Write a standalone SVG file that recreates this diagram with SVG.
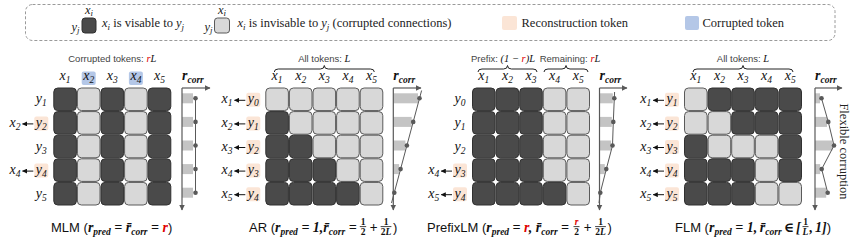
<svg xmlns="http://www.w3.org/2000/svg" width="856" height="243" viewBox="0 0 856 243">
<style>
.d{fill:#4a4a4a;stroke:#303030;stroke-width:1}
.l{fill:#d8d8d8;stroke:#5a5a5a;stroke-width:1}
.rb{fill:#fbe5d6}
.cb{fill:#b4c7e7}
.mi{font-family:"Liberation Serif",serif;font-style:italic;font-size:14px;fill:#111}
.sb{font-size:9.5px}
.ax{stroke:#595959;stroke-width:1.2;fill:none}
.bar{fill:#c4c4c4}
.dot{fill:#595959}
.cl{stroke:#595959;stroke-width:1;fill:none}
.la{stroke:#111;stroke-width:1;fill:none}
.br{stroke:#222;stroke-width:1;fill:none}
.note{font-family:"Liberation Sans",sans-serif;font-size:9.5px;fill:#444}
.nm{font-family:"Liberation Serif",serif;font-style:italic;font-size:10.5px;fill:#111}
.cap{font-family:"Liberation Sans",sans-serif;font-size:13px;fill:#111}
.m{font-family:"Liberation Serif","DejaVu Serif",serif;font-style:italic;font-weight:bold;font-size:14px;fill:#111}
.ms{font-size:9.5px}
.fr{font-family:"Liberation Serif",serif;font-weight:bold;font-size:9.5px;fill:#111}
.fb{stroke:#111;stroke-width:0.8}
.red{fill:#e00000}
.lg{font-family:"Liberation Serif",serif;font-size:12.5px;fill:#222}
.lgi{font-style:italic}
.lgs{font-size:9px;font-style:italic}
</style>
<defs>
<marker id="ah" viewBox="0 0 6 6" refX="5.5" refY="3" markerWidth="6" markerHeight="6" markerUnits="userSpaceOnUse" orient="auto"><path d="M0,0 L6,3 L0,6 z" fill="#595959"/></marker>
<marker id="la" viewBox="0 0 6 6" refX="5.5" refY="3" markerWidth="5" markerHeight="5" markerUnits="userSpaceOnUse" orient="auto"><path d="M0,0 L6,3 L0,6 z" fill="#111"/></marker>
</defs>

<g id="legend">
<rect x="25.5" y="4.5" width="809.5" height="36" rx="7" fill="none" stroke="#9a9a9a" stroke-dasharray="3 2"/>
<rect class="d" x="82" y="18" width="14" height="15" rx="3"/>
<text class="lg lgi" x="89" y="14" text-anchor="middle" font-size="11">x<tspan class="lgs" dy="2">i</tspan></text>
<text class="lg lgi" x="79.5" y="31" text-anchor="end" font-size="11">y<tspan class="lgs" dy="2">j</tspan></text>
<text class="lg" x="102" y="27"><tspan class="lgi">x</tspan><tspan class="lgs" dy="2.5">i</tspan><tspan dy="-2.5"> is visable to </tspan><tspan class="lgi">y</tspan><tspan class="lgs" dy="2.5">j</tspan></text>
<rect class="l" x="214.5" y="18" width="15" height="15" rx="3"/>
<text class="lg lgi" x="222" y="14" text-anchor="middle" font-size="11">x<tspan class="lgs" dy="2">i</tspan></text>
<text class="lg lgi" x="212.5" y="31" text-anchor="end" font-size="11">y<tspan class="lgs" dy="2">j</tspan></text>
<text class="lg" x="237.5" y="27"><tspan class="lgi">x</tspan><tspan class="lgs" dy="2.5">i</tspan><tspan dy="-2.5"> is invisable to </tspan><tspan class="lgi">y</tspan><tspan class="lgs" dy="2.5">j</tspan><tspan dy="-2.5"> (corrupted connections)</tspan></text>
<rect class="rb" x="502" y="16" width="15" height="14" rx="2"/>
<text class="lg" x="521.5" y="27">Reconstruction token</text>
<rect class="cb" x="685" y="16" width="14" height="14" rx="2"/>
<text class="lg" x="702.5" y="27">Corrupted token</text>
</g>

<!-- MLM -->
<g id="mlm">
<text class="note" x="112.3" y="62" text-anchor="middle">Corrupted tokens: <tspan class="nm red">r</tspan><tspan class="nm">L</tspan></text>
<rect class="cb" x="81.7" y="71.5" width="14" height="13.5" rx="2"/>
<rect class="cb" x="128.9" y="71.5" width="14" height="13.5" rx="2"/>
<text class="mi" x="65.1" y="80" text-anchor="middle">x<tspan class="sb" dy="3">1</tspan></text>
<text class="mi" x="88.7" y="80" text-anchor="middle">x<tspan class="sb" dy="3">2</tspan></text>
<text class="mi" x="112.3" y="80" text-anchor="middle">x<tspan class="sb" dy="3">3</tspan></text>
<text class="mi" x="135.9" y="80" text-anchor="middle">x<tspan class="sb" dy="3">4</tspan></text>
<text class="mi" x="159.5" y="80" text-anchor="middle">x<tspan class="sb" dy="3">5</tspan></text>
<rect class="rb" x="34.3" y="116.4" width="14" height="14" rx="2"/>
<rect class="rb" x="34.3" y="163.6" width="14" height="14" rx="2"/>
<text class="mi" x="41.3" y="103.3" text-anchor="middle">y<tspan class="sb" dy="3">1</tspan></text>
<text class="mi" x="41.3" y="126.9" text-anchor="middle">y<tspan class="sb" dy="3">2</tspan></text>
<text class="mi" x="41.3" y="150.5" text-anchor="middle">y<tspan class="sb" dy="3">3</tspan></text>
<text class="mi" x="41.3" y="174.1" text-anchor="middle">y<tspan class="sb" dy="3">4</tspan></text>
<text class="mi" x="41.3" y="197.7" text-anchor="middle">y<tspan class="sb" dy="3">5</tspan></text>
<text class="mi" x="20.5" y="126.9" text-anchor="end">x<tspan class="sb" dy="3">2</tspan></text>
<text class="mi" x="20.5" y="174.1" text-anchor="end">x<tspan class="sb" dy="3">4</tspan></text>
<g transform="translate(53.3,87.5)">
<rect class="d" x="0.5" y="0.5" width="22.6" height="22.6" rx="4"/><rect class="l" x="24.1" y="0.5" width="22.6" height="22.6" rx="4"/><rect class="d" x="47.7" y="0.5" width="22.6" height="22.6" rx="4"/><rect class="l" x="71.3" y="0.5" width="22.6" height="22.6" rx="4"/><rect class="d" x="94.9" y="0.5" width="22.6" height="22.6" rx="4"/>
<rect class="d" x="0.5" y="24.1" width="22.6" height="22.6" rx="4"/><rect class="l" x="24.1" y="24.1" width="22.6" height="22.6" rx="4"/><rect class="d" x="47.7" y="24.1" width="22.6" height="22.6" rx="4"/><rect class="l" x="71.3" y="24.1" width="22.6" height="22.6" rx="4"/><rect class="d" x="94.9" y="24.1" width="22.6" height="22.6" rx="4"/>
<rect class="d" x="0.5" y="47.7" width="22.6" height="22.6" rx="4"/><rect class="l" x="24.1" y="47.7" width="22.6" height="22.6" rx="4"/><rect class="d" x="47.7" y="47.7" width="22.6" height="22.6" rx="4"/><rect class="l" x="71.3" y="47.7" width="22.6" height="22.6" rx="4"/><rect class="d" x="94.9" y="47.7" width="22.6" height="22.6" rx="4"/>
<rect class="d" x="0.5" y="71.3" width="22.6" height="22.6" rx="4"/><rect class="l" x="24.1" y="71.3" width="22.6" height="22.6" rx="4"/><rect class="d" x="47.7" y="71.3" width="22.6" height="22.6" rx="4"/><rect class="l" x="71.3" y="71.3" width="22.6" height="22.6" rx="4"/><rect class="d" x="94.9" y="71.3" width="22.6" height="22.6" rx="4"/>
<rect class="d" x="0.5" y="94.9" width="22.6" height="22.6" rx="4"/><rect class="l" x="24.1" y="94.9" width="22.6" height="22.6" rx="4"/><rect class="d" x="47.7" y="94.9" width="22.6" height="22.6" rx="4"/><rect class="l" x="71.3" y="94.9" width="22.6" height="22.6" rx="4"/><rect class="d" x="94.9" y="94.9" width="22.6" height="22.6" rx="4"/>
</g>
<text class="m" x="182" y="80">r<tspan class="ms" dy="2.5">corr</tspan></text>
<rect class="bar" x="182" y="93.3" width="11" height="10"/>
<rect class="bar" x="182" y="116.9" width="11" height="10"/>
<rect class="bar" x="182" y="140.5" width="11" height="10"/>
<rect class="bar" x="182" y="164.1" width="11" height="10"/>
<rect class="bar" x="182" y="187.7" width="11" height="10"/>
<line class="ax" x1="182" y1="88" x2="210" y2="88" marker-end="url(#ah)"/>
<line class="ax" x1="182" y1="88" x2="182" y2="210" marker-end="url(#ah)"/>
<line class="cl" x1="195.5" y1="98.3" x2="195.5" y2="192.7"/>
<circle class="dot" cx="195.5" cy="98.3" r="2.3"/><circle class="dot" cx="195.5" cy="121.9" r="2.3"/><circle class="dot" cx="195.5" cy="145.5" r="2.3"/><circle class="dot" cx="195.5" cy="169.1" r="2.3"/><circle class="dot" cx="195.5" cy="192.7" r="2.3"/>
<text class="cap" x="111.7" y="231.5" text-anchor="middle">MLM (<tspan class="m">r</tspan><tspan class="m ms" dy="3">pred</tspan><tspan class="m" dy="-3"> = r̄</tspan><tspan class="m ms" dy="3">corr</tspan><tspan class="m" dy="-3"> = </tspan><tspan class="m red">r</tspan>)</text>
</g>

<!-- AR -->
<g id="ar">
<text class="note" x="324.3" y="62" text-anchor="middle">All tokens: <tspan class="nm">L</tspan></text>
<path class="br" d="M274.3,72 Q274.3,69 278.3,69 L320.3,69 Q324.3,69 324.3,65.5 Q324.3,69 328.3,69 L370.3,69 Q374.3,69 374.3,72"/>
<text class="mi" x="277.1" y="80" text-anchor="middle">x<tspan class="sb" dy="3">1</tspan></text>
<text class="mi" x="300.7" y="80" text-anchor="middle">x<tspan class="sb" dy="3">2</tspan></text>
<text class="mi" x="324.3" y="80" text-anchor="middle">x<tspan class="sb" dy="3">3</tspan></text>
<text class="mi" x="347.9" y="80" text-anchor="middle">x<tspan class="sb" dy="3">4</tspan></text>
<text class="mi" x="371.5" y="80" text-anchor="middle">x<tspan class="sb" dy="3">5</tspan></text>
<rect class="rb" x="246.3" y="92.8" width="14" height="14" rx="2"/>
<rect class="rb" x="246.3" y="116.4" width="14" height="14" rx="2"/>
<rect class="rb" x="246.3" y="140" width="14" height="14" rx="2"/>
<rect class="rb" x="246.3" y="163.6" width="14" height="14" rx="2"/>
<rect class="rb" x="246.3" y="187.2" width="14" height="14" rx="2"/>
<text class="mi" x="253.3" y="103.3" text-anchor="middle">y<tspan class="sb" dy="3">0</tspan></text>
<text class="mi" x="253.3" y="126.9" text-anchor="middle">y<tspan class="sb" dy="3">1</tspan></text>
<text class="mi" x="253.3" y="150.5" text-anchor="middle">y<tspan class="sb" dy="3">2</tspan></text>
<text class="mi" x="253.3" y="174.1" text-anchor="middle">y<tspan class="sb" dy="3">3</tspan></text>
<text class="mi" x="253.3" y="197.7" text-anchor="middle">y<tspan class="sb" dy="3">4</tspan></text>
<text class="mi" x="232.5" y="103.3" text-anchor="end">x<tspan class="sb" dy="3">1</tspan></text>
<text class="mi" x="232.5" y="126.9" text-anchor="end">x<tspan class="sb" dy="3">2</tspan></text>
<text class="mi" x="232.5" y="150.5" text-anchor="end">x<tspan class="sb" dy="3">3</tspan></text>
<text class="mi" x="232.5" y="174.1" text-anchor="end">x<tspan class="sb" dy="3">4</tspan></text>
<text class="mi" x="232.5" y="197.7" text-anchor="end">x<tspan class="sb" dy="3">5</tspan></text>
<g transform="translate(265.3,87.5)">
<rect class="l" x="0.5" y="0.5" width="22.6" height="22.6" rx="4"/><rect class="l" x="24.1" y="0.5" width="22.6" height="22.6" rx="4"/><rect class="l" x="47.7" y="0.5" width="22.6" height="22.6" rx="4"/><rect class="l" x="71.3" y="0.5" width="22.6" height="22.6" rx="4"/><rect class="l" x="94.9" y="0.5" width="22.6" height="22.6" rx="4"/>
<rect class="d" x="0.5" y="24.1" width="22.6" height="22.6" rx="4"/><rect class="l" x="24.1" y="24.1" width="22.6" height="22.6" rx="4"/><rect class="l" x="47.7" y="24.1" width="22.6" height="22.6" rx="4"/><rect class="l" x="71.3" y="24.1" width="22.6" height="22.6" rx="4"/><rect class="l" x="94.9" y="24.1" width="22.6" height="22.6" rx="4"/>
<rect class="d" x="0.5" y="47.7" width="22.6" height="22.6" rx="4"/><rect class="d" x="24.1" y="47.7" width="22.6" height="22.6" rx="4"/><rect class="l" x="47.7" y="47.7" width="22.6" height="22.6" rx="4"/><rect class="l" x="71.3" y="47.7" width="22.6" height="22.6" rx="4"/><rect class="l" x="94.9" y="47.7" width="22.6" height="22.6" rx="4"/>
<rect class="d" x="0.5" y="71.3" width="22.6" height="22.6" rx="4"/><rect class="d" x="24.1" y="71.3" width="22.6" height="22.6" rx="4"/><rect class="d" x="47.7" y="71.3" width="22.6" height="22.6" rx="4"/><rect class="l" x="71.3" y="71.3" width="22.6" height="22.6" rx="4"/><rect class="l" x="94.9" y="71.3" width="22.6" height="22.6" rx="4"/>
<rect class="d" x="0.5" y="94.9" width="22.6" height="22.6" rx="4"/><rect class="d" x="24.1" y="94.9" width="22.6" height="22.6" rx="4"/><rect class="d" x="47.7" y="94.9" width="22.6" height="22.6" rx="4"/><rect class="d" x="71.3" y="94.9" width="22.6" height="22.6" rx="4"/><rect class="l" x="94.9" y="94.9" width="22.6" height="22.6" rx="4"/>
</g>
<text class="m" x="393.3" y="80">r<tspan class="ms" dy="2.5">corr</tspan></text>
<rect class="bar" x="393.3" y="93.3" width="24.7" height="10"/>
<rect class="bar" x="393.3" y="116.9" width="18.4" height="10"/>
<rect class="bar" x="393.3" y="140.5" width="12.1" height="10"/>
<rect class="bar" x="393.3" y="164.1" width="5.8" height="10"/>
<line class="ax" x1="393.3" y1="88" x2="421" y2="88" marker-end="url(#ah)"/>
<line class="ax" x1="393.3" y1="88" x2="393.3" y2="210" marker-end="url(#ah)"/>
<line class="cl" x1="421.6" y1="90.5" x2="391.5" y2="203"/>
<circle class="dot" cx="419.5" cy="98.3" r="2.3"/><circle class="dot" cx="413.2" cy="121.9" r="2.3"/><circle class="dot" cx="406.9" cy="145.5" r="2.3"/><circle class="dot" cx="400.6" cy="169.1" r="2.3"/><circle class="dot" cx="394.3" cy="192.7" r="2.3"/>
<text class="cap" x="249" y="231.5">AR (<tspan class="m">r</tspan><tspan class="m ms" dy="3">pred</tspan><tspan class="m" dy="-3"> = 1,r̄</tspan><tspan class="m ms" dy="3">corr</tspan><tspan class="m" dy="-3"> =</tspan></text>
<text class="fr" x="363" y="224.5" text-anchor="middle">1</text>
<line class="fb" x1="359.8" y1="226.6" x2="366.2" y2="226.6"/>
<text class="fr" x="363" y="234.5" text-anchor="middle">2</text>
<text class="m" x="369.5" y="231.5">+</text>
<text class="fr" x="386" y="224.5" text-anchor="middle">1</text>
<line class="fb" x1="380.6" y1="226.6" x2="391.4" y2="226.6"/>
<text class="fr" x="386" y="234.5" text-anchor="middle">2<tspan font-style="italic">L</tspan></text>
<text class="cap" x="393" y="231.5">)</text>
</g>

<!-- PrefixLM -->
<g id="prefixlm">
<text class="note" x="503" y="62" text-anchor="middle">Prefix: <tspan class="nm" font-style="normal">(1 − </tspan><tspan class="nm red">r</tspan><tspan class="nm" font-style="normal">)</tspan><tspan class="nm">L</tspan></text>
<text class="note" x="570" y="62" text-anchor="middle">Remaining: <tspan class="nm red">r</tspan><tspan class="nm">L</tspan></text>
<path class="br" d="M478,72 Q478,69 482,69 L503.5,69 Q507.5,69 507.5,65.5 Q507.5,69 511.5,69 L533,69 Q537,69 537,72"/>
<path class="br" d="M544,72 Q544,69 548,69 L562,69 Q566,69 566,65.5 Q566,69 570,69 L584,69 Q588,69 588,72"/>
<text class="mi" x="483.8" y="80" text-anchor="middle">x<tspan class="sb" dy="3">1</tspan></text>
<text class="mi" x="507.4" y="80" text-anchor="middle">x<tspan class="sb" dy="3">2</tspan></text>
<text class="mi" x="531" y="80" text-anchor="middle">x<tspan class="sb" dy="3">3</tspan></text>
<text class="mi" x="554.6" y="80" text-anchor="middle">x<tspan class="sb" dy="3">4</tspan></text>
<text class="mi" x="578.2" y="80" text-anchor="middle">x<tspan class="sb" dy="3">5</tspan></text>
<rect class="rb" x="453" y="163.6" width="14" height="14" rx="2"/>
<rect class="rb" x="453" y="187.2" width="14" height="14" rx="2"/>
<text class="mi" x="460" y="103.3" text-anchor="middle">y<tspan class="sb" dy="3">0</tspan></text>
<text class="mi" x="460" y="126.9" text-anchor="middle">y<tspan class="sb" dy="3">1</tspan></text>
<text class="mi" x="460" y="150.5" text-anchor="middle">y<tspan class="sb" dy="3">2</tspan></text>
<text class="mi" x="460" y="174.1" text-anchor="middle">y<tspan class="sb" dy="3">3</tspan></text>
<text class="mi" x="460" y="197.7" text-anchor="middle">y<tspan class="sb" dy="3">4</tspan></text>
<text class="mi" x="439.2" y="174.1" text-anchor="end">x<tspan class="sb" dy="3">4</tspan></text>
<text class="mi" x="439.2" y="197.7" text-anchor="end">x<tspan class="sb" dy="3">5</tspan></text>
<g transform="translate(472,87.5)">
<rect class="d" x="0.5" y="0.5" width="22.6" height="22.6" rx="4"/><rect class="d" x="24.1" y="0.5" width="22.6" height="22.6" rx="4"/><rect class="d" x="47.7" y="0.5" width="22.6" height="22.6" rx="4"/><rect class="l" x="71.3" y="0.5" width="22.6" height="22.6" rx="4"/><rect class="l" x="94.9" y="0.5" width="22.6" height="22.6" rx="4"/>
<rect class="d" x="0.5" y="24.1" width="22.6" height="22.6" rx="4"/><rect class="d" x="24.1" y="24.1" width="22.6" height="22.6" rx="4"/><rect class="d" x="47.7" y="24.1" width="22.6" height="22.6" rx="4"/><rect class="l" x="71.3" y="24.1" width="22.6" height="22.6" rx="4"/><rect class="l" x="94.9" y="24.1" width="22.6" height="22.6" rx="4"/>
<rect class="d" x="0.5" y="47.7" width="22.6" height="22.6" rx="4"/><rect class="d" x="24.1" y="47.7" width="22.6" height="22.6" rx="4"/><rect class="d" x="47.7" y="47.7" width="22.6" height="22.6" rx="4"/><rect class="l" x="71.3" y="47.7" width="22.6" height="22.6" rx="4"/><rect class="l" x="94.9" y="47.7" width="22.6" height="22.6" rx="4"/>
<rect class="d" x="0.5" y="71.3" width="22.6" height="22.6" rx="4"/><rect class="d" x="24.1" y="71.3" width="22.6" height="22.6" rx="4"/><rect class="d" x="47.7" y="71.3" width="22.6" height="22.6" rx="4"/><rect class="l" x="71.3" y="71.3" width="22.6" height="22.6" rx="4"/><rect class="l" x="94.9" y="71.3" width="22.6" height="22.6" rx="4"/>
<rect class="d" x="0.5" y="94.9" width="22.6" height="22.6" rx="4"/><rect class="d" x="24.1" y="94.9" width="22.6" height="22.6" rx="4"/><rect class="d" x="47.7" y="94.9" width="22.6" height="22.6" rx="4"/><rect class="d" x="71.3" y="94.9" width="22.6" height="22.6" rx="4"/><rect class="l" x="94.9" y="94.9" width="22.6" height="22.6" rx="4"/>
</g>
<text class="m" x="599.5" y="80">r<tspan class="ms" dy="2.5">corr</tspan></text>
<rect class="bar" x="599.5" y="93.3" width="13.3" height="10"/>
<rect class="bar" x="599.5" y="116.9" width="12.3" height="10"/>
<rect class="bar" x="599.5" y="140.5" width="11.5" height="10"/>
<rect class="bar" x="599.5" y="164.1" width="5.3" height="10"/>
<line class="ax" x1="599.5" y1="88" x2="627" y2="88" marker-end="url(#ah)"/>
<line class="ax" x1="599.5" y1="88" x2="599.5" y2="210" marker-end="url(#ah)"/>
<polyline class="cl" points="614.6,92 614.3,98.3 613.3,121.9 612.5,145.5 606.3,169.1 600.3,192.7 599,203"/>
<circle class="dot" cx="614.3" cy="98.3" r="2.3"/><circle class="dot" cx="613.3" cy="121.9" r="2.3"/><circle class="dot" cx="612.5" cy="145.5" r="2.3"/><circle class="dot" cx="606.3" cy="169.1" r="2.3"/><circle class="dot" cx="600.3" cy="192.7" r="2.3"/>
<text class="cap" x="427" y="231.5">PrefixLM (<tspan class="m">r</tspan><tspan class="m ms" dy="3">pred</tspan><tspan class="m" dy="-3"> = </tspan><tspan class="m red">r</tspan><tspan class="m">, r̄</tspan><tspan class="m ms" dy="3">corr</tspan><tspan class="m" dy="-3"> =</tspan></text>
<text class="fr red" x="576.5" y="224.5" text-anchor="middle" font-style="italic">r</text>
<line class="fb" x1="573.5" y1="226.6" x2="579.5" y2="226.6"/>
<text class="fr" x="576.5" y="234.5" text-anchor="middle">2</text>
<text class="m" x="583.5" y="231.5">+</text>
<text class="fr" x="600.5" y="224.5" text-anchor="middle">1</text>
<line class="fb" x1="595.1" y1="226.6" x2="605.9" y2="226.6"/>
<text class="fr" x="600.5" y="234.5" text-anchor="middle">2<tspan font-style="italic">L</tspan></text>
<text class="cap" x="607.5" y="231.5">)</text>
</g>

<!-- FLM -->
<g id="flm">
<text class="note" x="743" y="62" text-anchor="middle">All tokens: <tspan class="nm">L</tspan></text>
<path class="br" d="M693,72 Q693,69 697,69 L739,69 Q743,69 743,65.5 Q743,69 747,69 L789,69 Q793,69 793,72"/>
<text class="mi" x="695.8" y="80" text-anchor="middle">x<tspan class="sb" dy="3">1</tspan></text>
<text class="mi" x="719.4" y="80" text-anchor="middle">x<tspan class="sb" dy="3">2</tspan></text>
<text class="mi" x="743" y="80" text-anchor="middle">x<tspan class="sb" dy="3">3</tspan></text>
<text class="mi" x="766.6" y="80" text-anchor="middle">x<tspan class="sb" dy="3">4</tspan></text>
<text class="mi" x="790.2" y="80" text-anchor="middle">x<tspan class="sb" dy="3">5</tspan></text>
<rect class="rb" x="665" y="92.8" width="14" height="14" rx="2"/>
<rect class="rb" x="665" y="116.4" width="14" height="14" rx="2"/>
<rect class="rb" x="665" y="140" width="14" height="14" rx="2"/>
<rect class="rb" x="665" y="163.6" width="14" height="14" rx="2"/>
<rect class="rb" x="665" y="187.2" width="14" height="14" rx="2"/>
<text class="mi" x="672" y="103.3" text-anchor="middle">y<tspan class="sb" dy="3">1</tspan></text>
<text class="mi" x="672" y="126.9" text-anchor="middle">y<tspan class="sb" dy="3">2</tspan></text>
<text class="mi" x="672" y="150.5" text-anchor="middle">y<tspan class="sb" dy="3">3</tspan></text>
<text class="mi" x="672" y="174.1" text-anchor="middle">y<tspan class="sb" dy="3">4</tspan></text>
<text class="mi" x="672" y="197.7" text-anchor="middle">y<tspan class="sb" dy="3">5</tspan></text>
<text class="mi" x="651.2" y="103.3" text-anchor="end">x<tspan class="sb" dy="3">1</tspan></text>
<text class="mi" x="651.2" y="126.9" text-anchor="end">x<tspan class="sb" dy="3">2</tspan></text>
<text class="mi" x="651.2" y="150.5" text-anchor="end">x<tspan class="sb" dy="3">3</tspan></text>
<text class="mi" x="651.2" y="174.1" text-anchor="end">x<tspan class="sb" dy="3">4</tspan></text>
<text class="mi" x="651.2" y="197.7" text-anchor="end">x<tspan class="sb" dy="3">5</tspan></text>
<g transform="translate(684,87.5)">
<rect class="l" x="0.5" y="0.5" width="22.6" height="22.6" rx="4"/><rect class="d" x="24.1" y="0.5" width="22.6" height="22.6" rx="4"/><rect class="d" x="47.7" y="0.5" width="22.6" height="22.6" rx="4"/><rect class="d" x="71.3" y="0.5" width="22.6" height="22.6" rx="4"/><rect class="d" x="94.9" y="0.5" width="22.6" height="22.6" rx="4"/>
<rect class="l" x="0.5" y="24.1" width="22.6" height="22.6" rx="4"/><rect class="l" x="24.1" y="24.1" width="22.6" height="22.6" rx="4"/><rect class="d" x="47.7" y="24.1" width="22.6" height="22.6" rx="4"/><rect class="d" x="71.3" y="24.1" width="22.6" height="22.6" rx="4"/><rect class="d" x="94.9" y="24.1" width="22.6" height="22.6" rx="4"/>
<rect class="d" x="0.5" y="47.7" width="22.6" height="22.6" rx="4"/><rect class="l" x="24.1" y="47.7" width="22.6" height="22.6" rx="4"/><rect class="l" x="47.7" y="47.7" width="22.6" height="22.6" rx="4"/><rect class="l" x="71.3" y="47.7" width="22.6" height="22.6" rx="4"/><rect class="d" x="94.9" y="47.7" width="22.6" height="22.6" rx="4"/>
<rect class="d" x="0.5" y="71.3" width="22.6" height="22.6" rx="4"/><rect class="d" x="24.1" y="71.3" width="22.6" height="22.6" rx="4"/><rect class="d" x="47.7" y="71.3" width="22.6" height="22.6" rx="4"/><rect class="l" x="71.3" y="71.3" width="22.6" height="22.6" rx="4"/><rect class="d" x="94.9" y="71.3" width="22.6" height="22.6" rx="4"/>
<rect class="d" x="0.5" y="94.9" width="22.6" height="22.6" rx="4"/><rect class="d" x="24.1" y="94.9" width="22.6" height="22.6" rx="4"/><rect class="d" x="47.7" y="94.9" width="22.6" height="22.6" rx="4"/><rect class="l" x="71.3" y="94.9" width="22.6" height="22.6" rx="4"/><rect class="l" x="94.9" y="94.9" width="22.6" height="22.6" rx="4"/>
</g>
<text class="m" x="815" y="80">r<tspan class="ms" dy="2.5">corr</tspan></text>
<rect class="bar" x="815" y="93.3" width="5" height="10"/>
<rect class="bar" x="815" y="116.9" width="12" height="10"/>
<rect class="bar" x="815" y="140.5" width="17.5" height="10"/>
<rect class="bar" x="815" y="164.1" width="5.2" height="10"/>
<rect class="bar" x="815" y="187.7" width="11.2" height="10"/>
<line class="ax" x1="815" y1="88" x2="842" y2="88" marker-end="url(#ah)"/>
<line class="ax" x1="815" y1="88" x2="815" y2="210" marker-end="url(#ah)"/>
<polyline class="cl" points="821.5,98.3 828.3,121.9 834,145.5 821.7,169.1 827.7,192.7"/>
<circle class="dot" cx="821.5" cy="98.3" r="2.3"/><circle class="dot" cx="828.3" cy="121.9" r="2.3"/><circle class="dot" cx="834" cy="145.5" r="2.3"/><circle class="dot" cx="821.7" cy="169.1" r="2.3"/><circle class="dot" cx="827.7" cy="192.7" r="2.3"/>
<text class="lg" transform="translate(839.5,151.5) rotate(90)" text-anchor="middle">Flexible corruption</text>
<text class="cap" x="675" y="231.5">FLM (<tspan class="m">r</tspan><tspan class="m ms" dy="3">pred</tspan><tspan class="m" dy="-3"> = 1,</tspan><tspan class="m" dx="2.5">r̄</tspan><tspan class="m ms" dy="3">corr</tspan><tspan class="m" dy="-3" dx="2">∈</tspan><tspan class="m" dx="2">[</tspan></text>
<text class="fr" x="805.5" y="224.5" text-anchor="middle">1</text>
<line class="fb" x1="802.5" y1="226.6" x2="808.5" y2="226.6"/>
<text class="fr" x="805.5" y="234.5" text-anchor="middle" font-style="italic">L</text>
<text class="cap" x="809.5" y="231.5"><tspan class="m">,</tspan><tspan class="m" dx="2">1]</tspan>)</text>
</g>

<g id="connectors">
<line class="la" x1="33.3" y1="123.9" x2="22.5" y2="123.9" marker-end="url(#la)"/>
<line class="la" x1="33.3" y1="171.1" x2="22.5" y2="171.1" marker-end="url(#la)"/>
<line class="la" x1="245.3" y1="100.3" x2="234.5" y2="100.3" marker-end="url(#la)"/>
<line class="la" x1="245.3" y1="123.9" x2="234.5" y2="123.9" marker-end="url(#la)"/>
<line class="la" x1="245.3" y1="147.5" x2="234.5" y2="147.5" marker-end="url(#la)"/>
<line class="la" x1="245.3" y1="171.1" x2="234.5" y2="171.1" marker-end="url(#la)"/>
<line class="la" x1="245.3" y1="194.7" x2="234.5" y2="194.7" marker-end="url(#la)"/>
<line class="la" x1="452" y1="171.1" x2="441.2" y2="171.1" marker-end="url(#la)"/>
<line class="la" x1="452" y1="194.7" x2="441.2" y2="194.7" marker-end="url(#la)"/>
<line class="la" x1="664" y1="100.3" x2="653.2" y2="100.3" marker-end="url(#la)"/>
<line class="la" x1="664" y1="123.9" x2="653.2" y2="123.9" marker-end="url(#la)"/>
<line class="la" x1="664" y1="147.5" x2="653.2" y2="147.5" marker-end="url(#la)"/>
<line class="la" x1="664" y1="171.1" x2="653.2" y2="171.1" marker-end="url(#la)"/>
<line class="la" x1="664" y1="194.7" x2="653.2" y2="194.7" marker-end="url(#la)"/>
</g>
</svg>
